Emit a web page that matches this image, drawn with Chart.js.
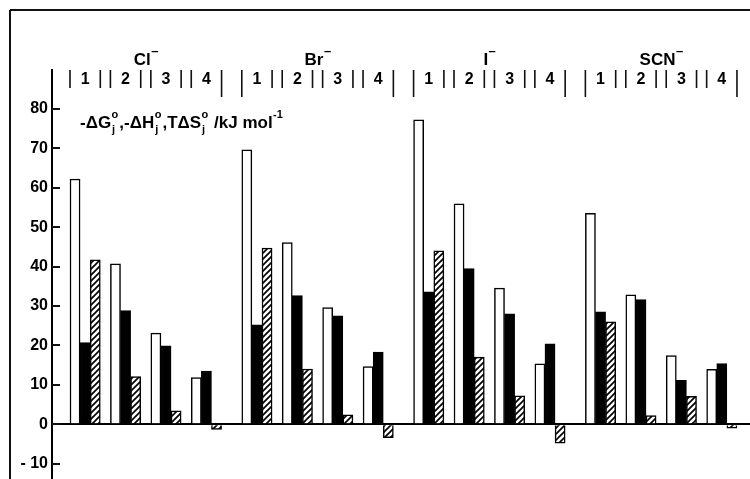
<!DOCTYPE html>
<html>
<head>
<meta charset="utf-8">
<script src="https://cdn.jsdelivr.net/npm/chart.js@4.4.1/dist/chart.umd.min.js"></script>
<style>
  html, body { margin: 0; padding: 0; background: #fff; }
  canvas { display: block; }
</style>
</head>
<body>
<canvas id="chart" width="750" height="479"></canvas>
<script>
// anions and the 4 steps j shown for each one
const anions = ['Cl', 'Br', 'I', 'SCN'];
const steps = ['1', '2', '3', '4'];

// values in kJ/mol, order: Cl 1-4, Br 1-4, I 1-4, SCN 1-4
const minusDG = [62.2, 40.7, 23.1, 11.8, 69.6, 46.1, 29.6, 14.6, 77.2, 55.9, 34.5, 15.3, 53.5, 32.8, 17.4, 13.9];
const minusDH = [20.7, 28.8, 19.9, 13.5, 25.2, 32.6, 27.5, 18.3, 33.6, 39.5, 28.0, 20.4, 28.5, 31.6, 11.1, 15.4];
const TdS     = [41.7, 12.1, 3.4, -1.3, 44.7, 14.0, 2.4, -3.4, 44.0, 17.0, 7.2, -4.8, 26.0, 2.2, 7.1, -1.0];

const yMin = -13.9, yMax = 89.85;
const FONT = '"Liberation Sans", Arial, sans-serif';

// each step takes 4 bar slots (3 bars + gap), each anion 17 slots
const slotOf = i => Math.floor(i / 4) * 17 + (i % 4) * 4;

const canvas = document.getElementById('chart');
const ctx = canvas.getContext('2d');

function makeHatch() {
  const t = document.createElement('canvas');
  t.width = 6; t.height = 6;
  const g = t.getContext('2d');
  g.fillStyle = '#fff';
  g.fillRect(0, 0, 6, 6);
  g.strokeStyle = '#000';
  g.lineWidth = 1.7;
  g.beginPath();
  g.moveTo(-1, 7); g.lineTo(7, -1);
  g.moveTo(-1, 1); g.lineTo(1, -1);
  g.moveTo(5, 7); g.lineTo(7, 5);
  g.stroke();
  return ctx.createPattern(t, 'repeat');
}

const decorations = {
  id: 'decorations',
  beforeDraw(chart) {
    const c = chart.ctx;
    c.save();
    c.fillStyle = '#fff';
    c.fillRect(0, 0, chart.width, chart.height);
    c.restore();
  },
  afterDraw(chart) {
    const c = chart.ctx;
    const xs = chart.scales.x, ys = chart.scales.y;
    const area = chart.chartArea;
    c.save();
    c.strokeStyle = '#111';
    c.fillStyle = '#000';

    // frame
    c.lineWidth = 2;
    c.beginPath();
    c.moveTo(10, 10); c.lineTo(750, 10);
    c.moveTo(10, 10); c.lineTo(10, 479);
    c.stroke();

    // inward ticks on y axis
    c.lineWidth = 2;
    c.beginPath();
    ys.ticks.forEach(t => {
      const y = Math.round(ys.getPixelForValue(t.value));
      c.moveTo(area.left, y); c.lineTo(area.left + 8, y);
    });
    c.stroke();

    // header: step brackets, numbers and anion names
    c.lineWidth = 1.6;
    c.textAlign = 'center';
    c.textBaseline = 'alphabetic';
    anions.forEach((name, a) => {
      steps.forEach((s, k) => {
        const base = a * 17 + k * 4;
        const left = xs.getPixelForValue(base - 0.5);
        const right = xs.getPixelForValue(base + 2.5);
        const leftTall = k === 0 && a > 0;
        const rightTall = k === 3;
        c.beginPath();
        c.moveTo(left, 70); c.lineTo(left, leftTall ? 97 : 88);
        c.moveTo(right, 70); c.lineTo(right, rightTall ? 97 : 88);
        c.stroke();
        c.font = 'bold 16px ' + FONT;
        c.fillText(s, xs.getPixelForValue(base + 1), 83.5);
      });
      const cx = xs.getPixelForValue(a * 17 + 7);
      c.font = 'bold 17px ' + FONT;
      const w = c.measureText(name).width;
      c.font = 'bold 13px ' + FONT;
      const mw = c.measureText('\u2013').width;
      const start = cx - (w + mw) / 2;
      c.textAlign = 'left';
      c.font = 'bold 17px ' + FONT;
      c.fillText(name, start, 65);
      c.font = 'bold 13px ' + FONT;
      c.fillText('\u2013', start + w + 0.5, 55);
      c.textAlign = 'center';
    });

    // quantity label
    const parts = [
      { t: '-\u0394G', sup: 'o', sub: 'j' },
      { t: ',-\u0394H', sup: 'o', sub: 'j' },
      { t: ',T\u0394S', sup: 'o', sub: 'j' },
      { t: ' /kJ mol', sup: '-1' }
    ];
    let x = 80;
    const by = 128;
    c.textAlign = 'left';
    parts.forEach(p => {
      c.font = 'bold 17px ' + FONT;
      c.fillText(p.t, x, by);
      x += c.measureText(p.t).width;
      c.font = 'bold 11px ' + FONT;
      let adv = 0;
      if (p.sup) {
        c.fillText(p.sup, x + 0.5, by - 10);
        adv = Math.max(adv, c.measureText(p.sup).width);
      }
      if (p.sub) {
        c.fillText(p.sub, x + 1, by + 5);
        adv = Math.max(adv, c.measureText(p.sub).width);
      }
      x += adv + 1.5;
    });
    c.restore();
  }
};

new Chart(ctx, {
  type: 'bar',
  data: {
    datasets: [
      {
        label: '-\u0394G\u00b0j',
        data: minusDG.map((v, i) => ({ x: slotOf(i), y: v })),
        backgroundColor: '#fff',
        borderColor: '#000',
        borderWidth: 1.5
      },
      {
        label: '-\u0394H\u00b0j',
        data: minusDH.map((v, i) => ({ x: slotOf(i) + 1, y: v })),
        backgroundColor: '#000',
        borderColor: '#000',
        borderWidth: 1.5
      },
      {
        label: 'T\u0394S\u00b0j',
        data: TdS.map((v, i) => ({ x: slotOf(i) + 2, y: v })),
        backgroundColor: makeHatch(),
        borderColor: '#000',
        borderWidth: 1.5
      }
    ]
  },
  options: {
    responsive: false,
    animation: false,
    layout: { padding: { top: 70, left: 0, right: 0, bottom: 0 } },
    datasets: {
      bar: {
        grouped: false,
        categoryPercentage: 1,
        barPercentage: 1,
        borderSkipped: 'start'
      }
    },
    scales: {
      x: {
        type: 'linear',
        display: false,
        offset: false,
        min: -2.28,
        max: 66.79,
        ticks: { stepSize: 17 }
      },
      y: {
        min: yMin,
        max: yMax,
        ticks: {
          stepSize: 10,
          includeBounds: false,
          padding: 4,
          color: '#000',
          font: { family: FONT, size: 16, weight: 'bold' },
          callback: v => v < 0 ? '- ' + Math.abs(v) : v
        },
        grid: {
          drawTicks: false,
          lineWidth: 2,
          color: c => (c.tick && c.tick.value === 0) ? '#000' : 'rgba(0,0,0,0)'
        },
        border: { display: true, color: '#000', width: 2 },
        afterFit: s => {
          s.width = 52;
          s.paddingTop = 0;
          s.paddingBottom = 0;
        }
      }
    },
    plugins: {
      legend: { display: false },
      tooltip: { enabled: false }
    }
  },
  plugins: [decorations]
});
</script>
</body>
</html>
